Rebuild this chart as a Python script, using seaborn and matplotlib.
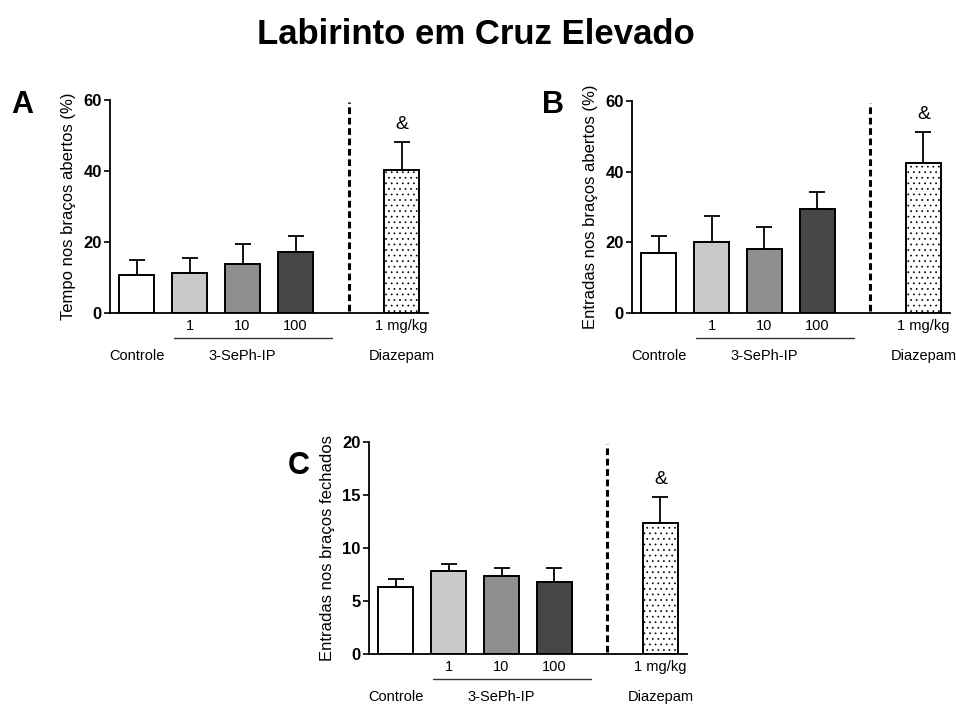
import matplotlib
matplotlib.use("Agg")
import matplotlib.pyplot as plt
import seaborn as sns
import pandas as pd
import numpy as np

# groups and bar values
groups = ["Controle", "1", "10", "100", "gap", "1 mg/kg"]
bar_groups = ["Controle", "1", "10", "100", "1 mg/kg"]
colors = ["#ffffff", "#c9c9c9", "#8f8f8f", "#474747", "#ffffff"]

tempo_mean = [10.8, 11.2, 13.7, 17.1, 40.2]
tempo_sem = [4.0, 4.2, 5.7, 4.6, 8.0]

entradas_abertos_mean = [17.1, 20.1, 18.2, 29.4, 42.4]
entradas_abertos_sem = [4.7, 7.4, 6.2, 4.7, 8.8]

entradas_fechados_mean = [6.34, 7.85, 7.35, 6.81, 12.37]
entradas_fechados_sem = [0.72, 0.63, 0.78, 1.32, 2.45]

sns.set_style("ticks")
plt.rcParams["font.family"] = ["Liberation Sans", "DejaVu Sans"]
plt.rcParams["hatch.linewidth"] = 0.5
for k in ["text.color", "axes.labelcolor", "xtick.color", "ytick.color",
          "axes.edgecolor"]:
    plt.rcParams[k] = "black"

fig = plt.figure(figsize=(9.56, 7.04), dpi=100)
fig.text(0.498, 0.938, "Labirinto em Cruz Elevado", ha="center", va="baseline",
         fontsize=25, fontweight="bold")


def panel(rect, letter, means, sems, ylabel, ymax, yticks, letter_xy):
    ax = fig.add_axes(rect)
    df = pd.DataFrame({"grupo": bar_groups, "valor": means})
    sns.barplot(data=df, x="grupo", y="valor", order=groups, hue="grupo",
                hue_order=bar_groups, palette=colors, legend=False,
                width=0.66, edgecolor="black", linewidth=1.4, ax=ax)
    pos = [0, 1, 2, 3, 5]
    for p in ax.patches:
        if abs(p.get_x() + p.get_width() / 2 - 5) < 0.01:
            p.set_hatch("...")
    ax.errorbar(pos, means, yerr=[np.zeros(len(sems)), sems], fmt="none",
                ecolor="black", elinewidth=1.3, capsize=6, capthick=1.3)
    ax.text(5, means[-1] + sems[-1] + ymax * 0.06, "&", ha="center",
            va="baseline", fontsize=14)
    ax.axvline(4, ymin=0.01, ymax=0.99, color="black", lw=2.2,
               ls=(0, (2.2, 1.2)))
    ax.set_xlim(-0.5, 5.5)
    ax.set_ylim(0, ymax)
    ax.set_yticks(yticks)
    ax.set_yticklabels([str(t) for t in yticks], fontweight="bold", fontsize=12)
    ax.tick_params(axis="y", length=4, width=1.2, pad=2)
    ax.tick_params(axis="x", length=0)
    ax.set_xticks([])
    ax.set_xlabel("")
    ax.set_ylabel(ylabel, fontsize=12, labelpad=5)
    sns.despine(ax=ax)
    ax.spines["left"].set_linewidth(1.3)
    ax.spines["bottom"].set_linewidth(1.3)

    # dose labels under the axis
    for x, lab in zip([1, 2, 3, 5], ["1", "10", "100", "1 mg/kg"]):
        ax.annotate(lab, xy=(x, 0), xycoords=("data", "axes fraction"),
                    xytext=(0, -13), textcoords="offset pixels",
                    ha="center", va="center", fontsize=10.5)
    ax.plot([0.7, 3.68], [-0.118, -0.118], transform=ax.get_xaxis_transform(),
            color="#333333", lw=1.0, clip_on=False)
    for x, lab in zip([0, 2, 5], ["Controle", "3-SePh-IP", "Diazepam"]):
        ax.annotate(lab, xy=(x, 0), xycoords=("data", "axes fraction"),
                    xytext=(0, -43), textcoords="offset pixels",
                    ha="center", va="center", fontsize=10.5)
    fig.text(letter_xy[0], letter_xy[1], letter, fontsize=22,
             fontweight="bold", ha="center", va="center")
    return ax


panel([0.1151, 0.5554, 0.3326, 0.3026], "A", tempo_mean, tempo_sem,
      "Tempo nos braços abertos (%)", 60, [0, 20, 40, 60], (0.023, 0.851))
panel([0.6611, 0.5554, 0.3326, 0.3012], "B", entradas_abertos_mean,
      entradas_abertos_sem, "Entradas nos braços abertos (%)", 60,
      [0, 20, 40, 60], (0.578, 0.851))
panel([0.386, 0.0710, 0.3326, 0.3012], "C", entradas_fechados_mean,
      entradas_fechados_sem, "Entradas nos braços fechados", 20,
      [0, 5, 10, 15, 20], (0.312, 0.338))

fig.savefig("out.png", dpi=100)
